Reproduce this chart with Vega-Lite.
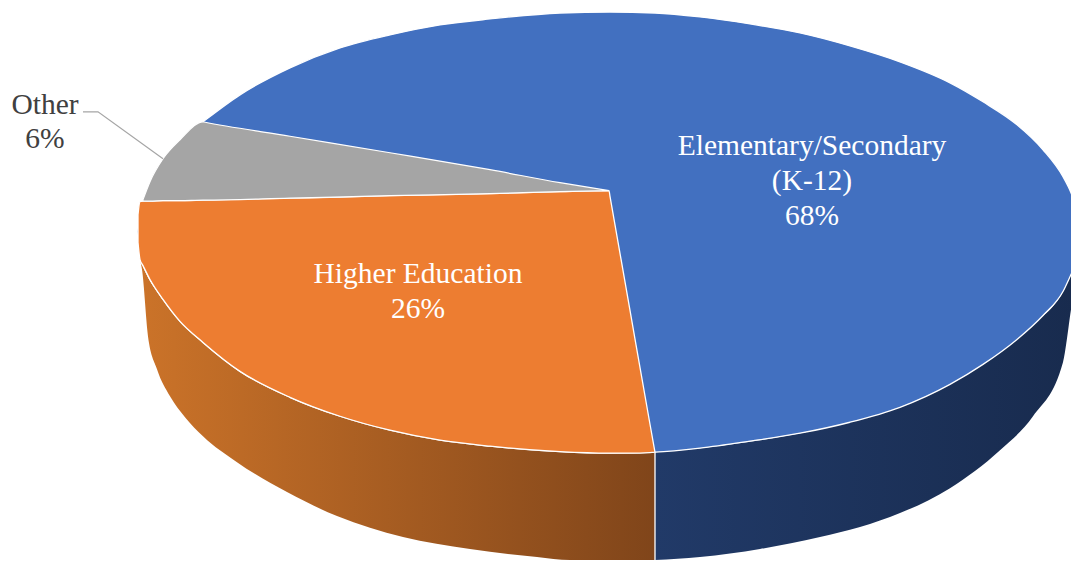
{
"$schema":"https://vega.github.io/schema/vega-lite/v6.json",
"width":1071,"height":561,"padding":0,
"autosize":{"type":"fit","contains":"padding"},
"background":"white",
"config":{"view":{"stroke":null}},
"datasets":{
"sideOrange":[{"x":140,"y":260,"y2":260},{"x":142,"y":265,"y2":270},{"x":148,"y":278,"y2":337},{"x":157,"y":292,"y2":370},{"x":170,"y":308,"y2":397},{"x":185,"y":327,"y2":418},{"x":203,"y":343,"y2":437},{"x":237,"y":370,"y2":463},{"x":287,"y":396,"y2":493},{"x":337,"y":416,"y2":517},{"x":403,"y":433,"y2":538},{"x":470,"y":445,"y2":550},{"x":537,"y":451,"y2":558},{"x":570,"y":453,"y2":561},{"x":655,"y":453,"y2":561}],
"sideBlue":[{"x":655,"y":453,"y2":561},{"x":700,"y":449,"y2":558},{"x":760,"y":441,"y2":550},{"x":820,"y":430,"y2":538},{"x":860,"y":420,"y2":528},{"x":900,"y":408,"y2":514},{"x":950,"y":385,"y2":489},{"x":1000,"y":353,"y2":451},{"x":1033,"y":325,"y2":417},{"x":1063,"y":292,"y2":363},{"x":1071,"y":275,"y2":310},{"x":1076,"y":265,"y2":275}],
"topBlue":[{"x":137,"y":232,"y2":232},{"x":138,"y":222,"y2":243},{"x":140,"y":208,"y2":260},{"x":143,"y":200,"y2":266},{"x":150,"y":182,"y2":280},{"x":163,"y":159,"y2":300},{"x":180,"y":140,"y2":322},{"x":203,"y":122,"y2":343},{"x":240,"y":95,"y2":372},{"x":290,"y":68,"y2":398},{"x":340,"y":48,"y2":417},{"x":390,"y":35,"y2":431},{"x":440,"y":25,"y2":441},{"x":490,"y":19,"y2":447},{"x":560,"y":13,"y2":452.5},{"x":610,"y":12,"y2":454},{"x":655,"y":13,"y2":453},{"x":700,"y":17,"y2":449},{"x":750,"y":24,"y2":442},{"x":800,"y":33,"y2":434},{"x":850,"y":46,"y2":423},{"x":900,"y":62,"y2":408},{"x":950,"y":83,"y2":385},{"x":983,"y":102,"y2":365},{"x":1017,"y":125,"y2":340},{"x":1043,"y":150,"y2":316},{"x":1063,"y":177,"y2":292},{"x":1071,"y":193,"y2":275},{"x":1080,"y":220,"y2":255},{"x":1085,"y":245,"y2":245}],
"topOrange":[{"x":138,"y":215,"y2":243},{"x":140,"y":202,"y2":260},{"x":143,"y":201.5,"y2":266},{"x":150,"y":201.5,"y2":280},{"x":163,"y":201,"y2":300},{"x":180,"y":201,"y2":322},{"x":203,"y":200.5,"y2":343},{"x":240,"y":199.5,"y2":372},{"x":290,"y":198.5,"y2":398},{"x":340,"y":197.5,"y2":417},{"x":390,"y":196,"y2":431},{"x":440,"y":195,"y2":441},{"x":490,"y":194,"y2":447},{"x":560,"y":192,"y2":452.5},{"x":609,"y":191,"y2":454},{"x":610,"y":196.7,"y2":454},{"x":630,"y":311,"y2":454},{"x":650,"y":425,"y2":453.5},{"x":655,"y":453,"y2":453}],
"topGray":[{"x":143,"y":200,"y2":201.5},{"x":150,"y":182,"y2":201.5},{"x":163,"y":159,"y2":201},{"x":180,"y":140,"y2":201},{"x":203,"y":122,"y2":200.5},{"x":204,"y":122.2,"y2":200.5},{"x":290,"y":136.5,"y2":198.5},{"x":390,"y":153,"y2":196},{"x":490,"y":170,"y2":194},{"x":560,"y":183,"y2":192},{"x":609,"y":191,"y2":191}],
"seam":[{"x":655,"y":453,"y2":561}],
"leader":[{"x":83,"y":112},{"x":98,"y":112},{"x":163,"y":159}],
"labels":[
{"slice":"Elementary/Secondary (K-12)","share":68,"line":"Elementary/Secondary","x":812,"y":155,"tone":"in"},
{"slice":"Elementary/Secondary (K-12)","share":68,"line":"(K-12)","x":812,"y":190,"tone":"in"},
{"slice":"Elementary/Secondary (K-12)","share":68,"line":"68%","x":812,"y":225,"tone":"in"},
{"slice":"Higher Education","share":26,"line":"Higher Education","x":418,"y":284,"tone":"in"},
{"slice":"Higher Education","share":26,"line":"26%","x":418,"y":319,"tone":"in"},
{"slice":"Other","share":6,"line":"Other","x":45,"y":114,"tone":"out"},
{"slice":"Other","share":6,"line":"6%","x":45,"y":148,"tone":"out"}
]},
"encoding":{
"x":{"field":"x","type":"quantitative","scale":{"domain":[0,1071],"nice":false,"zero":false},"axis":null},
"y":{"field":"y","type":"quantitative","scale":{"domain":[561,0],"nice":false,"zero":false},"axis":null}
},
"layer":[
{"data":{"name":"sideBlue"},"mark":{"type":"area","clip":true,"interpolate":"monotone","color":{"gradient":"linear","x1":0,"y1":0,"x2":1,"y2":0,"stops":[{"offset":0,"color":"#213A68"},{"offset":1,"color":"#182B4E"}]}},"encoding":{"y2":{"field":"y2"}}},
{"data":{"name":"sideOrange"},"mark":{"type":"area","clip":true,"interpolate":"monotone","color":{"gradient":"linear","x1":0,"y1":0,"x2":1,"y2":0,"stops":[{"offset":0,"color":"#CB7329"},{"offset":1,"color":"#80451A"}]}},"encoding":{"y2":{"field":"y2"}}},
{"data":{"name":"seam"},"mark":{"type":"rule","color":"#FFFFFF","strokeWidth":1.3},"encoding":{"y2":{"field":"y2"}}},
{"data":{"name":"topBlue"},"mark":{"type":"area","clip":true,"interpolate":"monotone","color":"#4270C0","stroke":"#FFFFFF","strokeWidth":1.3},"encoding":{"y2":{"field":"y2"}}},
{"data":{"name":"topOrange"},"mark":{"type":"area","clip":true,"interpolate":"monotone","color":"#ED7D31","stroke":"#FFFFFF","strokeWidth":1.3},"encoding":{"y2":{"field":"y2"}}},
{"data":{"name":"topGray"},"mark":{"type":"area","clip":true,"interpolate":"monotone","color":"#A5A5A5","stroke":"#FFFFFF","strokeWidth":1.2},"encoding":{"y2":{"field":"y2"}}},
{"data":{"name":"leader"},"mark":{"type":"line","color":"#A5A5A5","strokeWidth":1.2}},
{"data":{"name":"labels"},"mark":{"type":"text","font":"Liberation Serif","fontSize":29.5,"align":"center","baseline":"alphabetic"},"encoding":{
"text":{"field":"line"},
"color":{"field":"tone","type":"nominal","scale":{"domain":["in","out"],"range":["#FFFFFF","#404040"]},"legend":null}}}
]
}
